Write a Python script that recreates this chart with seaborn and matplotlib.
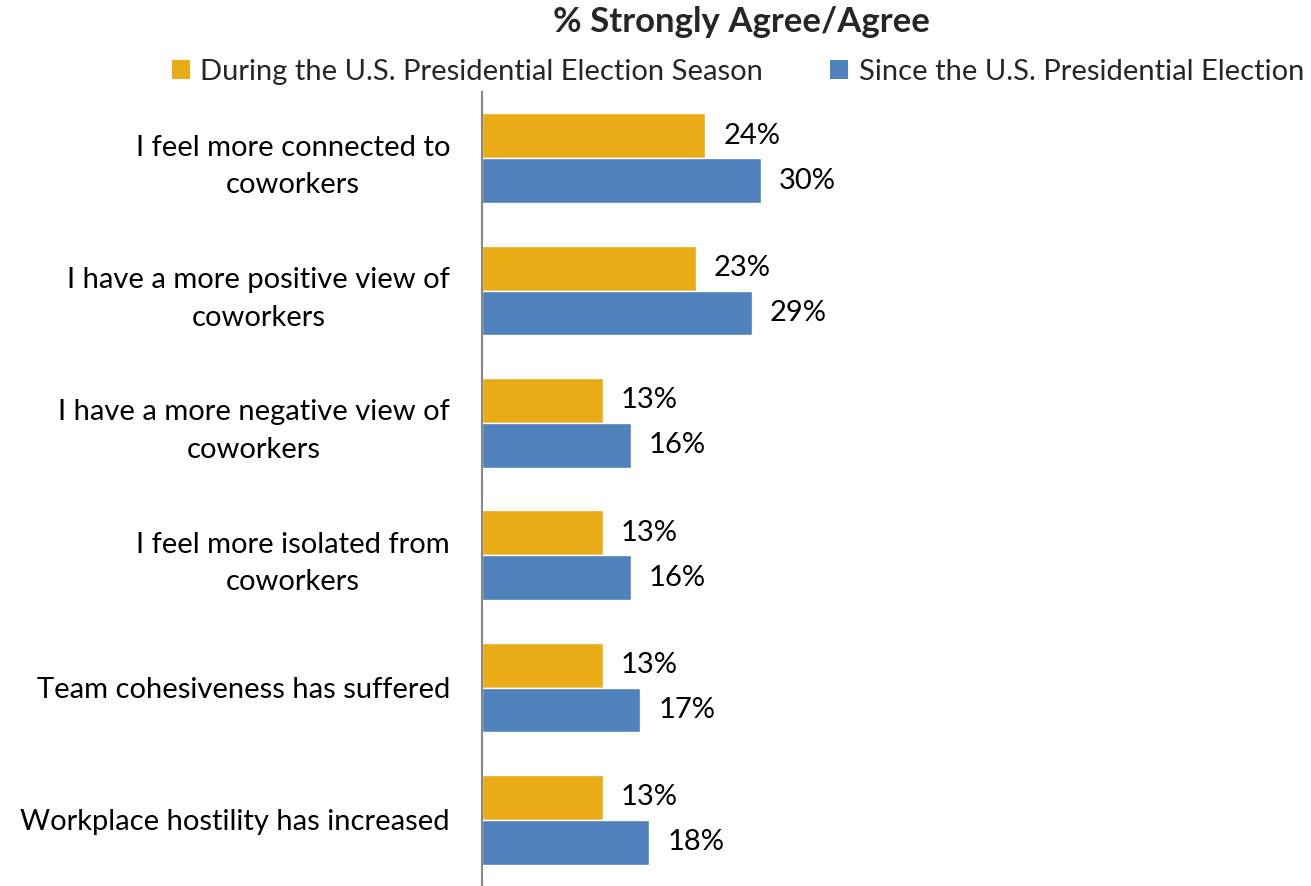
import matplotlib
matplotlib.use("Agg")
import matplotlib.pyplot as plt
import seaborn as sns
import pandas as pd
from matplotlib.patches import Patch

categories = [
    "I feel more connected to\ncoworkers",
    "I have a more positive view of\ncoworkers",
    "I have a more negative view of\ncoworkers",
    "I feel more isolated from\ncoworkers",
    "Team cohesiveness has suffered",
    "Workplace hostility has increased",
]
series_names = [
    "During the U.S. Presidential Election Season",
    "Since the U.S. Presidential Election",
]
during_season = [24, 23, 13, 13, 13, 13]
since_election = [30, 29, 16, 16, 17, 18]
colors = ["#E9AB16", "#4F81BD"]

df = pd.DataFrame({
    "category": categories * 2,
    "series": [series_names[0]] * len(categories) + [series_names[1]] * len(categories),
    "value": during_season + since_election,
})

sns.set_theme(style="white")
plt.rcParams["font.family"] = ["Lato", "DejaVu Sans"]

fig = plt.figure(figsize=(13.11, 8.86), dpi=100)
ax = fig.add_axes([482 / 1311, 0.0, 1 - 482 / 1311, 1 - 92 / 886])

sns.barplot(data=df, y="category", x="value", hue="series", order=categories,
            hue_order=series_names, palette=colors, orient="h", width=0.68,
            saturation=1, ax=ax, legend=False)

for container in ax.containers:
    ax.bar_label(container, labels=[f"{int(v)}%" for v in container.datavalues],
                 padding=13, fontsize=21, color="black")

ax.set_xlim(0, 829 / 9.3)
ax.set_ylim(len(categories) - 0.5, -0.5)
ax.set_xlabel("")
ax.set_ylabel("")
ax.set_xticks([])
for side in ["top", "right", "bottom"]:
    ax.spines[side].set_visible(False)
ax.spines["left"].set_color("#868686")
ax.spines["left"].set_linewidth(1.5)
ax.tick_params(axis="y", length=0, pad=23, labelsize=21, labelcolor="black")
for lbl in ax.get_yticklabels():
    lbl.set_horizontalalignment("right")
    lbl.set_multialignment("center")
    lbl.set_linespacing(1.55)

fig.text(741 / 1311, 1 - 22 / 886, "% Strongly Agree/Agree", ha="center", va="center",
         fontsize=25, fontweight="bold")

handles = [Patch(facecolor=c, edgecolor="none") for c in colors]
fig.legend(handles, series_names, loc="center", bbox_to_anchor=(738 / 1311, 1 - 72 / 886),
           ncol=2, frameon=False, fontsize=21, handlelength=0.62, handleheight=0.62,
           handletextpad=0.35, columnspacing=2.3)

fig.savefig("out.png", dpi=100)
